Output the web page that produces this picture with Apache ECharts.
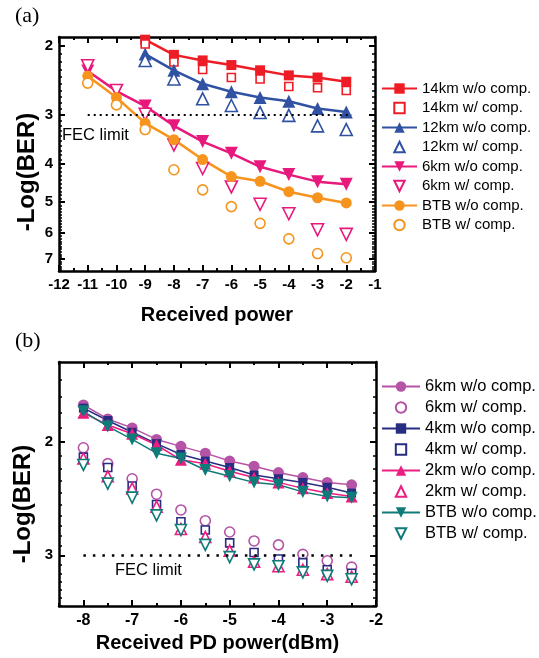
<!DOCTYPE html>
<html>
<head>
<meta charset="utf-8">
<script src="https://cdn.jsdelivr.net/npm/echarts@6/dist/echarts.min.js"></script>
<style>
html, body { margin: 0; padding: 0; background: #fff; }
#panelA { position: absolute; left: 0; top: 0; width: 539px; height: 330px; }
#panelB { position: absolute; left: 0; top: 330px; width: 539px; height: 328px; }
</style>
</head>
<body>
<div id="panelA"></div>
<div id="panelB"></div>
<script>
// ---- Panel (a): BER vs received power ----
const powerA = [-11, -10, -9, -8, -7, -6, -5, -4, -3, -2];
const powerLongA = [-9, -8, -7, -6, -5, -4, -3, -2];
const km14WoA = [1.93, 2.11, 2.18, 2.24, 2.31, 2.38, 2.41, 2.47];
const km14WA  = [1.98, 2.20, 2.30, 2.41, 2.43, 2.54, 2.56, 2.60];
const km12WoA = [2.10, 2.31, 2.50, 2.62, 2.71, 2.77, 2.89, 2.95];
const km12WA  = [2.18, 2.43, 2.73, 2.84, 2.96, 3.01, 3.20, 3.27];
const km6WoA  = [2.32, 2.61, 2.85, 3.20, 3.51, 3.76, 4.07, 4.26, 4.44, 4.51];
const km6WA   = [2.25, 2.60, 2.99, 3.58, 4.11, 4.58, 5.07, 5.36, 5.89, 6.05];
const btbWoA  = [2.39, 2.71, 3.15, 3.47, 3.90, 4.31, 4.43, 4.71, 4.88, 5.03];
const btbWA   = [2.49, 2.83, 3.27, 4.14, 4.66, 5.14, 5.67, 6.21, 6.77, 6.94];
const yTicksA = [2, 3, 4, 5, 6, 7];

// ---- Panel (b): BER vs received PD power ----
const powerB = [-8, -7.5, -7, -6.5, -6, -5.5, -5, -4.5, -4, -3.5, -3, -2.5];
const km6WoB = [1.75, 1.84, 1.90, 1.98, 2.03, 2.08, 2.14, 2.18, 2.23, 2.27, 2.31, 2.33];
const km6WB  = [2.04, 2.16, 2.28, 2.41, 2.55, 2.65, 2.76, 2.85, 2.89, 2.99, 3.06, 3.13];
const km4WoB = [1.77, 1.85, 1.93, 2.01, 2.09, 2.14, 2.19, 2.25, 2.28, 2.31, 2.35, 2.40];
const km4WB  = [2.11, 2.19, 2.34, 2.50, 2.66, 2.74, 2.87, 2.97, 3.04, 3.08, 3.16, 3.20];
const km2WoB = [1.80, 1.88, 1.94, 2.02, 2.13, 2.16, 2.22, 2.27, 2.31, 2.36, 2.40, 2.43];
const km2WB  = [2.12, 2.26, 2.36, 2.52, 2.73, 2.81, 2.95, 3.07, 3.12, 3.16, 3.21, 3.24];
const btbWoB = [1.79, 1.89, 1.98, 2.08, 2.12, 2.21, 2.26, 2.31, 2.33, 2.39, 2.43, 2.44];
const btbWB  = [2.17, 2.32, 2.44, 2.60, 2.74, 2.89, 3.02, 3.10, 3.12, 3.19, 3.23, 3.27];
const xTicksB = [-8, -7, -6, -5, -4, -3, -2];
const xMinorB = [-8.5, -7.5, -6.5, -5.5, -4.5, -3.5, -2.5];
const yTicksB = [2, 3];

const FEC = 3;
const SANS = '"Liberation Sans", Arial, sans-serif';
const SERIF = '"Liberation Serif", "Times New Roman", serif';

function pairs(xs, ys) { return xs.map((x, i) => [x, ys[i]]); }

// tenth-step minor ticks on the log axis, skipping the labelled values
function tenths(lo, hi, majors) {
  const out = [];
  for (let k = Math.round(lo * 10); k <= Math.round(hi * 10); k++) {
    const v = k / 10;
    if (majors.indexOf(v) < 0) out.push(v);
  }
  return out;
}

function solid(name, color, symbol, size, xs, ys, lw, rot) {
  return {
    name, type: 'line', data: pairs(xs, ys),
    symbol, symbolSize: size, symbolRotate: rot || 0,
    lineStyle: { color, width: lw },
    itemStyle: { color },
    emphasis: { disabled: true }
  };
}
function hollow(name, color, symbol, size, xs, ys, bw, rot) {
  return {
    name, type: 'line', data: pairs(xs, ys),
    symbol, symbolSize: size, symbolRotate: rot || 0,
    lineStyle: { width: 0, opacity: 0 },
    itemStyle: { color: '#fff', borderColor: color, borderWidth: bw },
    emphasis: { disabled: true }
  };
}

const frame = { show: true, onZero: false, lineStyle: { color: '#000', width: 2.5 } };

function xAxes(min, max, labelSize, name, nameGap, custom) {
  const base = {
    type: 'value', min, max, splitLine: { show: false }, axisLine: frame
  };
  const major = custom
    ? { inside: true, length: 6, customValues: custom.major, lineStyle: { color: '#000', width: 2 } }
    : { inside: true, length: 6, lineStyle: { color: '#000', width: 2 } };
  const axes = [];
  axes.push(Object.assign({}, base, custom ? {} : { interval: 1 }, {
    position: 'bottom',
    axisTick: major,
    minorTick: custom ? { show: false } : { show: true, splitNumber: 2, length: 3, lineStyle: { color: '#000', width: 2 } },
    axisLabel: Object.assign({ color: '#000', fontFamily: SANS, fontWeight: 'bold', fontSize: labelSize, margin: 6 },
      custom ? { customValues: custom.major } : {}),
    name, nameLocation: 'middle', nameGap,
    nameTextStyle: { color: '#000', fontFamily: SANS, fontWeight: 'bold', fontSize: 20 }
  }));
  axes.push(Object.assign({}, base, custom ? {} : { interval: 1 }, {
    position: 'top',
    axisTick: major,
    minorTick: custom ? { show: false } : { show: true, splitNumber: 2, length: 3, lineStyle: { color: '#000', width: 2 } },
    axisLabel: { show: false }
  }));
  if (custom) {
    ['bottom', 'top'].forEach(pos => axes.push(Object.assign({}, base, {
      position: pos, axisLine: { show: false },
      axisTick: { inside: true, length: 3, customValues: custom.minor, lineStyle: { color: '#000', width: 2 } },
      axisLabel: { show: false }
    })));
  }
  return axes;
}

function yAxes(min, max, majors, labelSize) {
  const minors = tenths(min + 0.1, max - 0.05, majors);
  const base = { type: 'log', min, max, inverse: true, splitLine: { show: false } };
  const axes = [];
  ['left', 'right'].forEach(pos => {
    axes.push(Object.assign({}, base, {
      position: pos, axisLine: frame,
      axisTick: { inside: true, length: 6, customValues: majors, lineStyle: { color: '#000', width: 2 } },
      axisLabel: pos === 'left'
        ? { customValues: majors, color: '#000', fontFamily: SANS, fontWeight: 'bold', fontSize: labelSize, margin: 6 }
        : { show: false }
    }));
    axes.push(Object.assign({}, base, {
      position: pos, axisLine: { show: false },
      axisTick: { inside: true, length: 3, customValues: minors, lineStyle: { color: '#000', width: 1.5 } },
      axisLabel: { show: false }
    }));
  });
  return axes;
}

function fecLine(x0, x1, dash, width) {
  return {
    silent: true, symbol: 'none', animation: false,
    label: { show: false },
    lineStyle: { color: '#000', type: dash, width },
    data: [[{ coord: [x0, FEC] }, { coord: [x1, FEC] }]]
  };
}

// ---------- chart (a) ----------
const RED = '#ee1c25', BLUE = '#3152a2', PINK = '#e8197d', ORANGE = '#f7941d';
const seriesA = [
  solid('14km w/o comp.', RED, 'rect', 10, powerLongA, km14WoA, 2.5),
  hollow('14km w/ comp.', RED, 'rect', 8, powerLongA, km14WA, 1.6),
  solid('12km w/o comp.', BLUE, 'triangle', 13, powerLongA, km12WoA, 2.5),
  hollow('12km w/ comp.', BLUE, 'triangle', 12, powerLongA, km12WA, 1.6),
  solid('6km w/o comp.', PINK, 'triangle', 13, powerA, km6WoA, 2.5, 180),
  hollow('6km w/ comp.', PINK, 'triangle', 12, powerA, km6WA, 1.6, 180),
  solid('BTB w/o comp.', ORANGE, 'circle', 11, powerA, btbWoA, 2.5),
  hollow('BTB w/ comp.', ORANGE, 'circle', 10, powerA, btbWA, 1.6)
];
seriesA[0].markLine = fecLine(-11, -1.8, [2, 4], 2.2);
seriesA.forEach(s => { s.xAxisIndex = 0; s.yAxisIndex = 0; });

const chartA = echarts.init(document.getElementById('panelA'), null, { renderer: 'canvas' });
chartA.setOption({
  animation: false,
  backgroundColor: '#fff',
  grid: { left: 59, top: 37, width: 316, height: 242, containLabel: false },
  xAxis: xAxes(-12, -1, 15, 'Received power', 34),
  yAxis: yAxes(1.9, 7.5, yTicksA, 15),
  legend: {
    orient: 'vertical', left: 381, top: 81, padding: 0,
    itemWidth: 35, itemHeight: 13, itemGap: 4.5, symbolRotate: 'inherit',
    textStyle: { color: '#000', fontFamily: SANS, fontSize: 15 },
    selectedMode: false,
    data: seriesA.map(s => s.name)
  },
  graphic: [
    { type: 'text', x: 15, y: 16, style: { text: '(a)', font: '22px ' + SERIF, fill: '#000', verticalAlign: 'middle' } },
    { type: 'text', x: 27, y: 172, rotation: Math.PI / 2,
      style: { text: '-Log(BER)', font: 'bold 24px ' + SANS, fill: '#000', align: 'center', verticalAlign: 'middle' } },
    { type: 'text', x: 62, y: 135, style: { text: 'FEC limit', font: '16.5px ' + SANS, fill: '#000', verticalAlign: 'middle' } }
  ],
  series: seriesA
});

// ---------- chart (b) ----------
const PURPLE = '#b553a6', NAVY = '#272d80', HOT = '#ec1c80', TEAL = '#0e7b78';
const seriesB = [
  solid('6km w/o comp.', PURPLE, 'circle', 11, powerB, km6WoB, 1.5),
  hollow('6km w/ comp.', PURPLE, 'circle', 10, powerB, km6WB, 1.6),
  solid('4km w/o comp.', NAVY, 'rect', 9, powerB, km4WoB, 1.5),
  hollow('4km w/ comp.', NAVY, 'rect', 8, powerB, km4WB, 1.6),
  solid('2km w/o comp.', HOT, 'triangle', 12, powerB, km2WoB, 1.5),
  hollow('2km w/ comp.', HOT, 'triangle', 11, powerB, km2WB, 1.6),
  solid('BTB w/o comp.', TEAL, 'triangle', 12, powerB, btbWoB, 1.5, 180),
  hollow('BTB w/ comp.', TEAL, 'triangle', 11, powerB, btbWB, 1.6, 180)
];
seriesB[0].markLine = fecLine(-8, -2.45, [2.5, 7], 2.5);
seriesB.forEach(s => { s.xAxisIndex = 0; s.yAxisIndex = 0; });

const chartB = echarts.init(document.getElementById('panelB'), null, { renderer: 'canvas' });
chartB.setOption({
  animation: false,
  backgroundColor: '#fff',
  grid: { left: 59, top: 32, width: 317, height: 245, containLabel: false },
  xAxis: xAxes(-8.5, -2, 16, 'Received PD power(dBm)', 25, { major: xTicksB, minor: xMinorB }),
  yAxis: yAxes(1.5, 3.6, yTicksB, 15),
  legend: {
    orient: 'vertical', left: 381, top: 48, padding: 0,
    itemWidth: 38, itemHeight: 13, itemGap: 4, symbolRotate: 'inherit',
    textStyle: { color: '#000', fontFamily: SANS, fontSize: 16.5 },
    selectedMode: false,
    data: seriesB.map(s => s.name)
  },
  graphic: [
    { type: 'text', x: 15, y: 11, style: { text: '(b)', font: '22px ' + SERIF, fill: '#000', verticalAlign: 'middle' } },
    { type: 'text', x: 23, y: 174, rotation: Math.PI / 2,
      style: { text: '-Log(BER)', font: 'bold 24px ' + SANS, fill: '#000', align: 'center', verticalAlign: 'middle' } },
    { type: 'text', x: 115, y: 240, style: { text: 'FEC limit', font: '16.5px ' + SANS, fill: '#000', verticalAlign: 'middle' } }
  ],
  series: seriesB
});
</script>
</body>
</html>
